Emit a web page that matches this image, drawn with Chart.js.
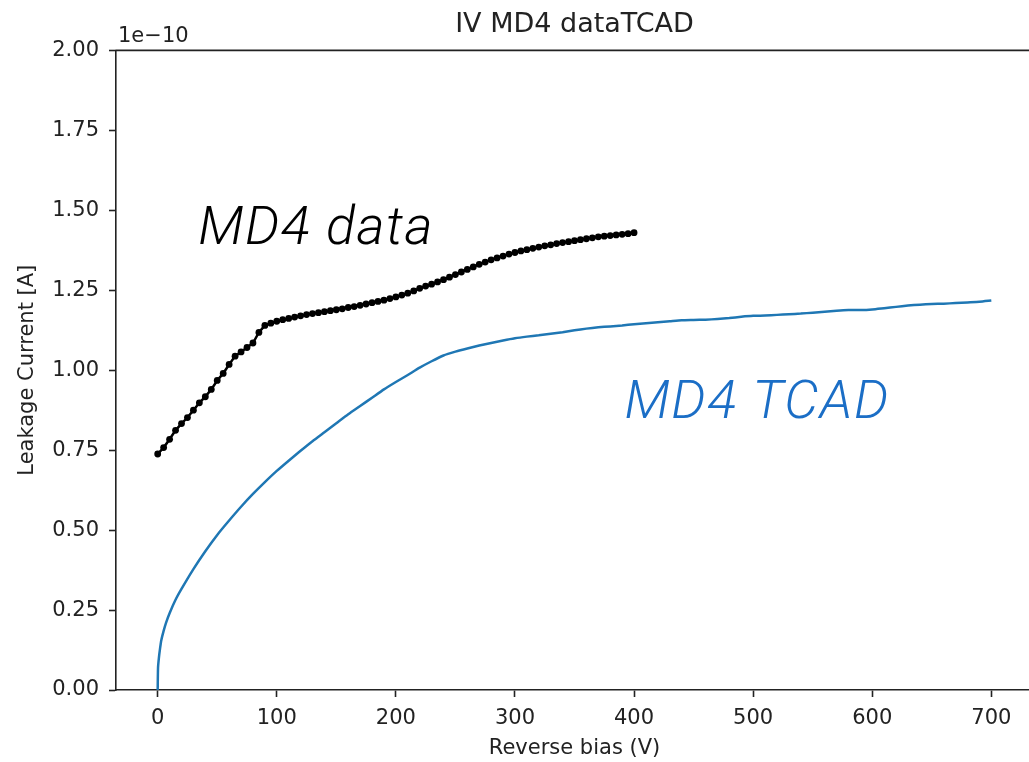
<!DOCTYPE html>
<html>
<head>
<meta charset="utf-8">
<script src="https://cdn.jsdelivr.net/npm/chart.js@4"></script>
<style>
  html, body { margin: 0; padding: 0; background: #fff; overflow: hidden; }
  #wrap { width: 1037px; height: 762px; position: relative; }
</style>
</head>
<body>
<div id="wrap"><canvas id="ivChart"></canvas></div>
<script>
// values are in units of 1e-10 A
const measVolts = [
  0, 5, 10, 15, 20, 25, 30, 35, 40, 45, 50, 55, 60, 65, 70, 75, 80, 85, 90, 95,
  100, 105, 110, 115, 120, 125, 130, 135, 140, 145, 150, 155, 160, 165, 170, 175, 180, 185, 190, 195,
  200, 205, 210, 215, 220, 225, 230, 235, 240, 245, 250, 255, 260, 265, 270, 275, 280, 285, 290, 295,
  300, 305, 310, 315, 320, 325, 330, 335, 340, 345, 350, 355, 360, 365, 370, 375, 380, 385, 390, 395, 400
];
const measCurrent = [
  0.738, 0.758, 0.784, 0.812, 0.833, 0.852, 0.875, 0.898, 0.917, 0.940, 0.968, 0.990, 1.018, 1.044, 1.057, 1.071, 1.085, 1.118, 1.140, 1.147,
  1.153, 1.158, 1.162, 1.166, 1.170, 1.174, 1.177, 1.180, 1.183, 1.186, 1.189, 1.192, 1.196, 1.199, 1.203, 1.207, 1.211, 1.215, 1.219, 1.224,
  1.229, 1.235, 1.241, 1.248, 1.256, 1.263, 1.269, 1.276, 1.283, 1.291, 1.299, 1.307, 1.315, 1.323, 1.331, 1.338, 1.345, 1.351, 1.357, 1.363,
  1.368, 1.373, 1.377, 1.381, 1.385, 1.389, 1.392, 1.396, 1.399, 1.402, 1.405, 1.408, 1.411, 1.414, 1.417, 1.419, 1.421, 1.423, 1.425, 1.427, 1.430
];

const tcadVolts = [
  0, 0.3, 1, 2, 3, 5, 7, 10, 15, 20, 30, 40, 50, 60, 70, 80, 90,
  100, 110, 120, 130, 140, 150, 160, 170, 180, 190, 200, 210, 220, 230, 240, 250, 260, 270, 280, 290,
  300, 310, 320, 330, 340, 350, 360, 370, 380, 390, 400, 410, 420, 430, 440, 450, 460, 470, 480, 490,
  500, 510, 520, 530, 540, 550, 560, 570, 580, 590, 600, 610, 620, 630, 640, 650, 660, 670, 680, 690, 700
];
const tcadCurrent = [
  0, 0.07, 0.1, 0.13, 0.155, 0.185, 0.21, 0.24, 0.282, 0.316, 0.378, 0.434, 0.485, 0.53, 0.573, 0.613, 0.65,
  0.685, 0.717, 0.748, 0.778, 0.806, 0.834, 0.862, 0.888, 0.914, 0.94, 0.963, 0.985, 1.008, 1.028, 1.046, 1.058, 1.068, 1.077, 1.085, 1.093,
  1.100, 1.105, 1.109, 1.114, 1.119, 1.125, 1.130, 1.134, 1.137, 1.140, 1.144, 1.147, 1.150, 1.153, 1.156, 1.157, 1.158, 1.160, 1.163, 1.167,
  1.170, 1.171, 1.173, 1.175, 1.177, 1.180, 1.183, 1.186, 1.188, 1.188, 1.190, 1.194, 1.198, 1.202, 1.205, 1.207, 1.208, 1.210, 1.212, 1.214, 1.218
];

const xTicks = [0, 100, 200, 300, 400, 500, 600, 700];
const yTicks = [0, 0.25, 0.5, 0.75, 1.0, 1.25, 1.5, 1.75, 2.0];

// text labels placed on the plot (x in V, y in 1e-10 A, at text baseline-left)
const labels = [
  { text: 'MD4 data', x: 34, y: 1.394, color: '#000000' },
  { text: 'MD4 TCAD', x: 392, y: 0.85, color: '#1b6ec6' }
];

const tickFont = { family: 'DejaVu Sans', size: 21 };
const axisColor = '#222';

const pairs = (xs, ys) => xs.map((x, i) => ({ x, y: ys[i] }));

// top spine, offset text and on-plot labels
const extras = {
  id: 'extras',
  afterDraw(chart) {
    const { ctx, chartArea, scales } = chart;
    ctx.save();
    ctx.strokeStyle = axisColor;
    ctx.lineWidth = 1.6;
    ctx.beginPath();
    ctx.moveTo(chartArea.left - 0.8, chartArea.top);
    ctx.lineTo(chartArea.right, chartArea.top);
    ctx.stroke();

    ctx.fillStyle = axisColor;
    ctx.font = '21px "DejaVu Sans"';
    ctx.textBaseline = 'alphabetic';
    ctx.textAlign = 'left';
    ctx.fillText('1e\u221210', chartArea.left + 2, chartArea.top - 8);

    ctx.font = 'italic 300 54px Roboto';
    ctx.letterSpacing = '1.5px';
    labels.forEach(l => {
      ctx.fillStyle = l.color;
      ctx.fillText(l.text, scales.x.getPixelForValue(l.x), scales.y.getPixelForValue(l.y));
    });
    ctx.restore();
  }
};

new Chart(document.getElementById('ivChart').getContext('2d'), {
  type: 'scatter',
  data: {
    datasets: [
      {
        label: 'TCAD',
        data: pairs(tcadVolts, tcadCurrent),
        showLine: true,
        borderColor: '#1f77b4',
        borderWidth: 2.5,
        pointRadius: 0,
        tension: 0.2,
      },
      {
        label: 'data',
        data: pairs(measVolts, measCurrent),
        showLine: true,
        borderColor: '#000',
        backgroundColor: '#000',
        borderWidth: 2.5,
        pointRadius: 3.4,
        pointBorderWidth: 0,
        tension: 0,
      }
    ]
  },
  options: {
    responsive: true,
    maintainAspectRatio: false,
    animation: false,
    layout: { padding: { left: 0, right: 0, top: 0, bottom: 0 } },
    plugins: {
      legend: { display: false },
      tooltip: { enabled: false },
      title: {
        display: true,
        text: 'IV MD4 dataTCAD',
        fullSize: false,
        color: axisColor,
        font: { family: 'DejaVu Sans', size: 27, weight: 'normal' },
        padding: { top: 9, bottom: 9 }
      }
    },
    scales: {
      x: {
        type: 'linear',
        min: -35,
        max: 735,
        afterBuildTicks: s => { s.ticks = xTicks.map(v => ({ value: v })); },
        afterFit: s => { s.height = 72; },
        grid: { drawOnChartArea: false, tickLength: 7, tickWidth: 1.6, color: axisColor },
        border: { display: true, color: axisColor, width: 1.6 },
        ticks: { color: axisColor, font: tickFont, padding: 9, maxRotation: 0 },
        title: {
          display: true,
          text: 'Reverse bias (V)',
          color: axisColor,
          font: tickFont,
          padding: { top: 0, bottom: 1 }
        }
      },
      y: {
        type: 'linear',
        min: 0,
        max: 2,
        afterBuildTicks: s => { s.ticks = yTicks.map(v => ({ value: v })); },
        afterFit: s => { s.width = 116; },
        grid: { drawOnChartArea: false, tickLength: 7, tickWidth: 1.6, color: axisColor },
        border: { display: true, color: axisColor, width: 1.6 },
        ticks: {
          color: axisColor,
          font: tickFont,
          padding: 10,
          callback: v => v.toFixed(2)
        },
        title: {
          display: true,
          text: 'Leakage Current [A]',
          color: axisColor,
          font: tickFont,
          padding: { top: 15, bottom: 0 }
        }
      }
    }
  },
  plugins: [extras]
});
</script>
</body>
</html>
